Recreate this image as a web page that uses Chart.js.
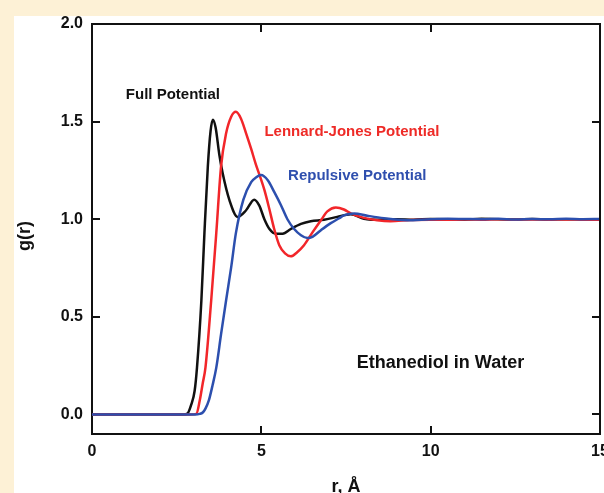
<!DOCTYPE html>
<html>
<head>
<meta charset="utf-8">
<title>g(r) ethanediol in water</title>
<script src="https://cdn.jsdelivr.net/npm/chart.js@4"></script>
<style>
  html, body { margin: 0; padding: 0; overflow: hidden; background: #fdf1d6; width: 604px; height: 493px; }
  #panel { position: absolute; left: 14px; top: 16px; width: 620px; height: 500px; background: #fff; }
  #wrap { position: absolute; left: 0; top: 0; width: 624px; height: 510px; }
</style>
</head>
<body>
<div id="panel"></div>
<div id="wrap"><canvas id="chart" width="624" height="510"></canvas></div>
<script>
// ===============================
// Data
// ===============================
const xTicks = [0, 5, 10, 15];
const yTicks = [0, 0.5, 1, 1.5, 2];

const fullR = [0, 2.7, 2.82, 2.93, 3.03, 3.1, 3.23, 3.32, 3.42, 3.5, 3.57, 3.65, 3.76, 3.86, 4.06, 4.3, 4.55, 4.79, 4.94, 5.09, 5.24, 5.43, 5.63, 5.87, 6.17, 6.46, 6.85, 7.24, 7.64, 8.03, 8.5, 9, 9.5, 10, 10.5, 11, 11.5, 12, 12.5, 13, 13.5, 14, 14.5, 15];
const fullG = [0, 0, 0.005, 0.05, 0.12, 0.24, 0.585, 0.93, 1.27, 1.45, 1.51, 1.47, 1.33, 1.234, 1.097, 1.012, 1.046, 1.1, 1.07, 1.0, 0.95, 0.926, 0.926, 0.95, 0.976, 0.99, 0.997, 1.012, 1.025, 1.003, 0.997, 1.0, 0.998, 1.001, 1.0, 0.998, 1.002, 1.0, 0.999, 1.001, 0.999, 1.0, 1.0, 1.0];

const ljR = [0, 2.9, 3.08, 3.18, 3.27, 3.35, 3.52, 3.67, 3.81, 3.96, 4.11, 4.25, 4.4, 4.55, 4.7, 4.84, 4.94, 5.09, 5.24, 5.38, 5.53, 5.7, 5.87, 6.05, 6.26, 6.5, 6.76, 6.95, 7.2, 7.44, 7.64, 8.03, 8.42, 8.81, 9.4, 10, 10.5, 11, 11.5, 12, 12.5, 13, 13.5, 14, 14.5, 15];
const ljG = [0, 0, 0.003, 0.07, 0.16, 0.24, 0.585, 0.93, 1.27, 1.44, 1.525, 1.55, 1.515, 1.44, 1.36, 1.28, 1.23, 1.15, 1.05, 0.95, 0.867, 0.825, 0.81, 0.83, 0.867, 0.93, 0.995, 1.04, 1.06, 1.05, 1.03, 1.007, 0.995, 0.99, 0.996, 0.998, 0.997, 0.999, 0.998, 1.0, 0.998, 0.999, 0.998, 0.999, 0.998, 0.998];

const repR = [0, 3.05, 3.18, 3.27, 3.35, 3.45, 3.56, 3.67, 3.81, 3.96, 4.11, 4.25, 4.47, 4.7, 4.85, 4.99, 5.19, 5.38, 5.58, 5.77, 5.97, 6.17, 6.36, 6.51, 6.76, 7.05, 7.3, 7.44, 7.74, 8.13, 8.62, 9.3, 10, 10.5, 11, 11.5, 12, 12.5, 13, 13.5, 14, 14.5, 15];
const repG = [0, 0, 0.003, 0.01, 0.03, 0.072, 0.15, 0.24, 0.41, 0.585, 0.755, 0.93, 1.1, 1.19, 1.215, 1.226, 1.2, 1.14, 1.072, 1.0, 0.95, 0.918, 0.904, 0.91, 0.944, 0.98, 1.005, 1.02, 1.03, 1.018, 1.005, 0.995, 1.0, 1.002, 1.001, 1.0, 1.002, 0.999, 1.001, 1.0, 1.002, 1.0, 1.001];

const seriesNames = ["Full Potential", "Lennard-Jones Potential", "Repulsive Potential"];

// ===============================
// Helpers / plugins
// ===============================
const FONT = "'Liberation Sans', Arial, sans-serif";
const toPoints = (rs, gs) => rs.map((r, i) => ({ x: r, y: gs[i] }));

// text labels placed in data coordinates (r, g)
const notes = [
  { text: seriesNames[0], r: 1.0, g: 1.636, color: "#111111", size: 15 },
  { text: seriesNames[1], r: 5.09, g: 1.446, color: "#ee2b27", size: 15 },
  { text: seriesNames[2], r: 5.79, g: 1.22, color: "#2f4fae", size: 15 },
  { text: "Ethanediol in Water", r: 7.82, g: 0.264, color: "#111111", size: 18 }
];

const extras = {
  id: "extras",
  beforeDatasetsDraw(chart) {
    // inward tick marks on all four sides (under the curves)
    const { ctx, chartArea: a, scales: { x, y } } = chart;
    ctx.save();
    ctx.strokeStyle = "#111";
    ctx.lineWidth = 2;
    ctx.beginPath();
    xTicks.slice(1, -1).forEach(v => {
      const px = Math.round(x.getPixelForValue(v));
      ctx.moveTo(px, a.bottom); ctx.lineTo(px, a.bottom - 8);
      ctx.moveTo(px, a.top); ctx.lineTo(px, a.top + 8);
    });
    yTicks.slice(0, -1).forEach(v => {
      const py = Math.round(y.getPixelForValue(v));
      ctx.moveTo(a.left, py); ctx.lineTo(a.left + 8, py);
      ctx.moveTo(a.right, py); ctx.lineTo(a.right - 8, py);
    });
    ctx.stroke();
    ctx.restore();
  },
  afterDatasetsDraw(chart) {
    const { ctx, chartArea: a, scales: { x, y } } = chart;
    ctx.save();
    // annotations
    ctx.textAlign = "left";
    ctx.textBaseline = "middle";
    notes.forEach(n => {
      ctx.font = "bold " + n.size + "px " + FONT;
      ctx.fillStyle = n.color;
      ctx.fillText(n.text, x.getPixelForValue(n.r), y.getPixelForValue(n.g));
    });

    // y axis title, a bit below the middle as in the original
    ctx.translate(25, (a.top + a.bottom) / 2 + 7);
    ctx.rotate(-Math.PI / 2);
    ctx.textAlign = "center";
    ctx.font = "bold 18px " + FONT;
    ctx.fillStyle = "#111";
    ctx.fillText("g(r)", 0, 0);
    ctx.restore();
  }
};

// ===============================
// Chart
// ===============================
const ctxChart = document.getElementById("chart");

new Chart(ctxChart, {
  type: "line",
  data: {
    datasets: [
      { label: seriesNames[0], data: toPoints(fullR, fullG), borderColor: "#111111", order: 3 },
      { label: seriesNames[1], data: toPoints(ljR, ljG), borderColor: "#f2262a", order: 2 },
      { label: seriesNames[2], data: toPoints(repR, repG), borderColor: "#2c4fae", order: 1 }
    ]
  },
  options: {
    responsive: false,
    animation: false,
    devicePixelRatio: 1,
    layout: { padding: { left: 0, top: 24, right: 24, bottom: 0 } },
    datasets: {
      line: {
        borderWidth: 2.5,
        pointRadius: 0,
        fill: false,
        cubicInterpolationMode: "monotone"
      }
    },
    plugins: {
      legend: { display: false },
      tooltip: { enabled: false }
    },
    scales: {
      x: {
        type: "linear",
        min: 0,
        max: 15,
        afterFit: s => { s.height = 76; },
        afterBuildTicks: s => { s.ticks = xTicks.map(v => ({ value: v })); },
        grid: { display: false, drawTicks: false },
        border: { display: true, color: "#111", width: 2 },
        ticks: {
          color: "#111",
          padding: 8,
          maxRotation: 0,
          font: { family: FONT, size: 16, weight: "bold" },
          callback: v => String(v)
        },
        title: {
          display: true,
          text: "r, Å",
          color: "#111",
          padding: { top: 0, bottom: 12 },
          font: { family: FONT, size: 18, weight: "bold" }
        }
      },
      y: {
        min: -0.1,
        max: 2.0,
        afterFit: s => { s.width = 92; },
        afterBuildTicks: s => { s.ticks = yTicks.map(v => ({ value: v })); },
        grid: { display: false, drawTicks: false },
        border: { display: true, color: "#111", width: 2 },
        ticks: {
          color: "#111",
          padding: 9,
          font: { family: FONT, size: 16, weight: "bold" },
          callback: v => v.toFixed(1)
        },
        title: { display: false }
      }
    }
  },
  plugins: [extras, {
    id: "frame",
    afterDraw(chart) {
      // closing top and right edges of the box
      const { ctx, chartArea: a } = chart;
      ctx.save();
      ctx.strokeStyle = "#111";
      ctx.lineWidth = 2;
      ctx.beginPath();
      ctx.moveTo(a.left, a.top); ctx.lineTo(a.right, a.top); ctx.lineTo(a.right, a.bottom);
      ctx.stroke();
      ctx.restore();
    }
  }]
});
</script>
</body>
</html>
